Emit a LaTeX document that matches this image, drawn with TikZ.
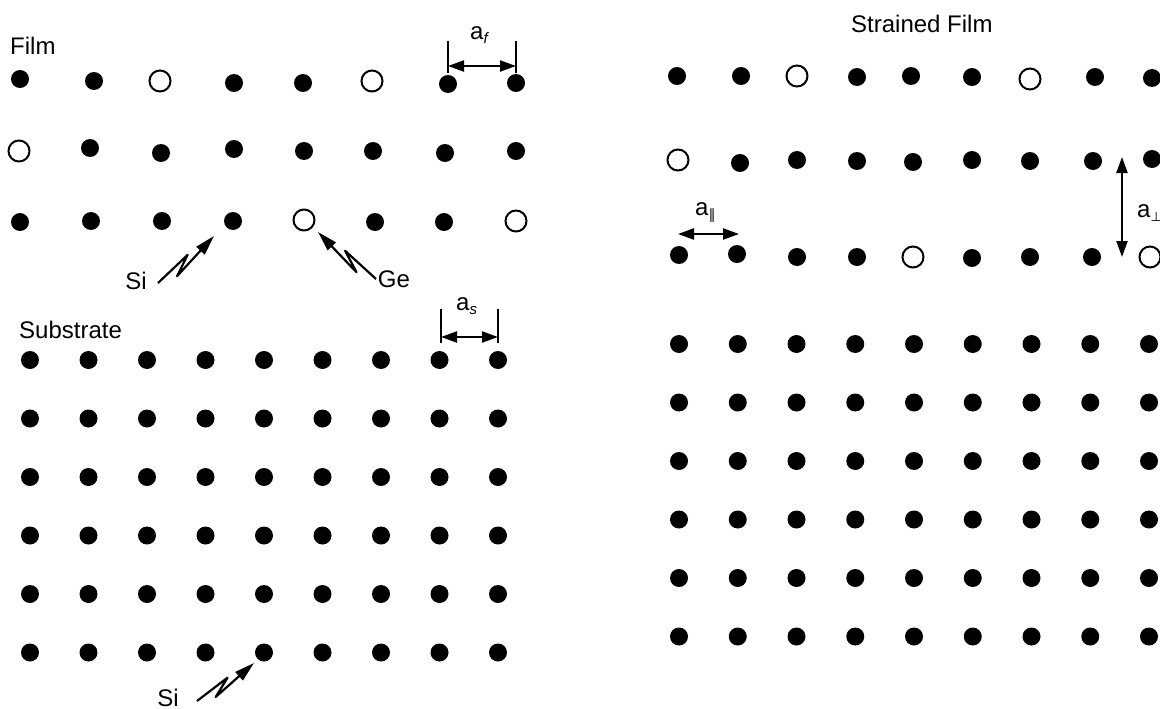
\documentclass[tikz,border=0pt]{standalone}
\usepackage{fontspec}
\setmainfont{Liberation Sans}
\newfontfamily\symf{DejaVu Sans}
\usetikzlibrary{arrows.meta,calc}
\tikzset{
 fd/.style={circle,fill=black,inner sep=0pt,minimum size=18pt},
 od/.style={circle,draw=black,line width=2pt,fill=white,inner sep=0pt,minimum size=21pt},
 lbl/.style={inner sep=0pt,font=\fontsize{24}{28}\selectfont},
 bar/.style={line width=1.8pt},
 dimarrow/.style={line width=2.2pt,{Triangle[length=16pt,width=11pt]}-{Triangle[length=16pt,width=11pt]}},
 zigline/.style={line width=2.2pt,line join=round,-{Triangle[length=20pt,width=11pt]}},
}
\newcommand\zigarrow[4]{%
 \draw[zigline] (#1) -- ($(#1)!0.56!(#2)!2.5pt!#4:(#2)$) -- ($(#1)!0.26!(#2)!7pt!#3:(#2)$) -- (#2);
}
\begin{document}
\begin{tikzpicture}[x=1pt,y=-1pt]
\fill[white] (0,0) rectangle (1160,709);
\useasboundingbox (0,0) rectangle (1160,709);
% film (left)
\foreach \x/\y/\k [count=\i] in {20/79/fd,94/81/fd,160/81/od,234/83/fd,303/83/fd,372/81/od,448/84/fd,516/83/fd}
  \node[\k] (fa-\i) at (\x,\y) {};
\foreach \x/\y/\k [count=\i] in {19/151/od,90/148/fd,161/153/fd,234/149/fd,304/151/fd,373/151/fd,445/153/fd,516/151/fd}
  \node[\k] (fb-\i) at (\x,\y) {};
\foreach \x/\y/\k [count=\i] in {20/222/fd,91/221/fd,162/221/fd,233/221/fd,304/220/od,375/222/fd,444/222/fd,516/221/od}
  \node[\k] (fc-\i) at (\x,\y) {};
% substrate
\foreach \i in {0,...,8}
  \foreach \j in {0,...,5}
    \node[fd] (s-\i-\j) at ({30+58.5*\i},{360+58.5*\j}) {};
% strained film
\foreach \x/\y/\k [count=\i] in {677/76/fd,741/76/fd,797/76/od,857/77/fd,911/76/fd,972/77/fd,1030/79/od,1095/77/fd,1152/78/fd}
  \node[\k] (ra-\i) at (\x,\y) {};
\foreach \x/\y/\k [count=\i] in {678/160/od,740/163/fd,797/160/fd,857/161/fd,913/162/fd,972/160/fd,1030/161/fd,1093/161/fd,1152/159/fd}
  \node[\k] (rb-\i) at (\x,\y) {};
\foreach \x/\y/\k [count=\i] in {679/255/fd,737/254/fd,797/257/fd,857/257/fd,913/257/od,972/258/fd,1030/257/fd,1092/257/fd,1150/257/od}
  \node[\k] (rc-\i) at (\x,\y) {};
\foreach \i in {0,...,8}
  \foreach \j in {0,...,5}
    \node[fd] (r-\i-\j) at ({679+58.75*\i},{344+58.5*\j}) {};
% labels
\node[lbl,anchor=base west] (film) at (10,55) {Film};
\node[lbl,anchor=base west] (substrate) at (19,338) {Substrate};
\node[lbl,anchor=base west] (strained) at (851,33) {Strained Film};
\node[lbl,anchor=base] (si1) at (136,289) {Si};
\node[lbl,anchor=base] (ge) at (394,287) {Ge};
\node[lbl,anchor=base] (si2) at (168,706) {Si};
\node[lbl,anchor=base west] (af) at (470,40) {a\raisebox{-4pt}{\fontsize{15}{15}\selectfont\itshape f}};
\node[lbl,anchor=base west] (as) at (456,310) {a\raisebox{-4pt}{\fontsize{15}{15}\selectfont\itshape s}};
\node[lbl,anchor=base west] (apar) at (695,215) {a\raisebox{-4pt}{\symf\fontsize{14}{14}\selectfont ∥}};
\node[lbl,anchor=base west] (aperp) at (1137,217) {a\raisebox{-4pt}{\symf\fontsize{13}{13}\selectfont ⊥}};
% dimension marks
\coordinate (afL1) at (448,41); \coordinate (afL2) at (448,73);
\coordinate (afR1) at (516,41); \coordinate (afR2) at (516,73);
\coordinate (afA) at (448,66); \coordinate (afB) at (516,66);
\draw[bar] (afL1) -- (afL2);
\draw[bar] (afR1) -- (afR2);
\draw[dimarrow] (afA) -- (afB);
\coordinate (asL1) at (441,309); \coordinate (asL2) at (441,343);
\coordinate (asR1) at (498,309); \coordinate (asR2) at (498,343);
\coordinate (asA) at (441,337); \coordinate (asB) at (498,337);
\draw[bar] (asL1) -- (asL2);
\draw[bar] (asR1) -- (asR2);
\draw[dimarrow] (asA) -- (asB);
\coordinate (apA) at (678,234); \coordinate (apB) at (739,234);
\draw[dimarrow] (apA) -- (apB);
\coordinate (aqA) at (1122,157); \coordinate (aqB) at (1122,257);
\draw[dimarrow] (aqA) -- (aqB);
% zigzag pointer arrows
\coordinate (si1tail) at (158,283); \coordinate (si1tip) at (214,236);
\coordinate (getail) at (376,279); \coordinate (getip) at (318,232);
\coordinate (si2tail) at (197,701); \coordinate (si2tip) at (254,663);
\zigarrow{si1tail}{si1tip}{-90}{90}
\zigarrow{getail}{getip}{90}{-90}
\zigarrow{si2tail}{si2tip}{-90}{90}
\end{tikzpicture}
\end{document}
